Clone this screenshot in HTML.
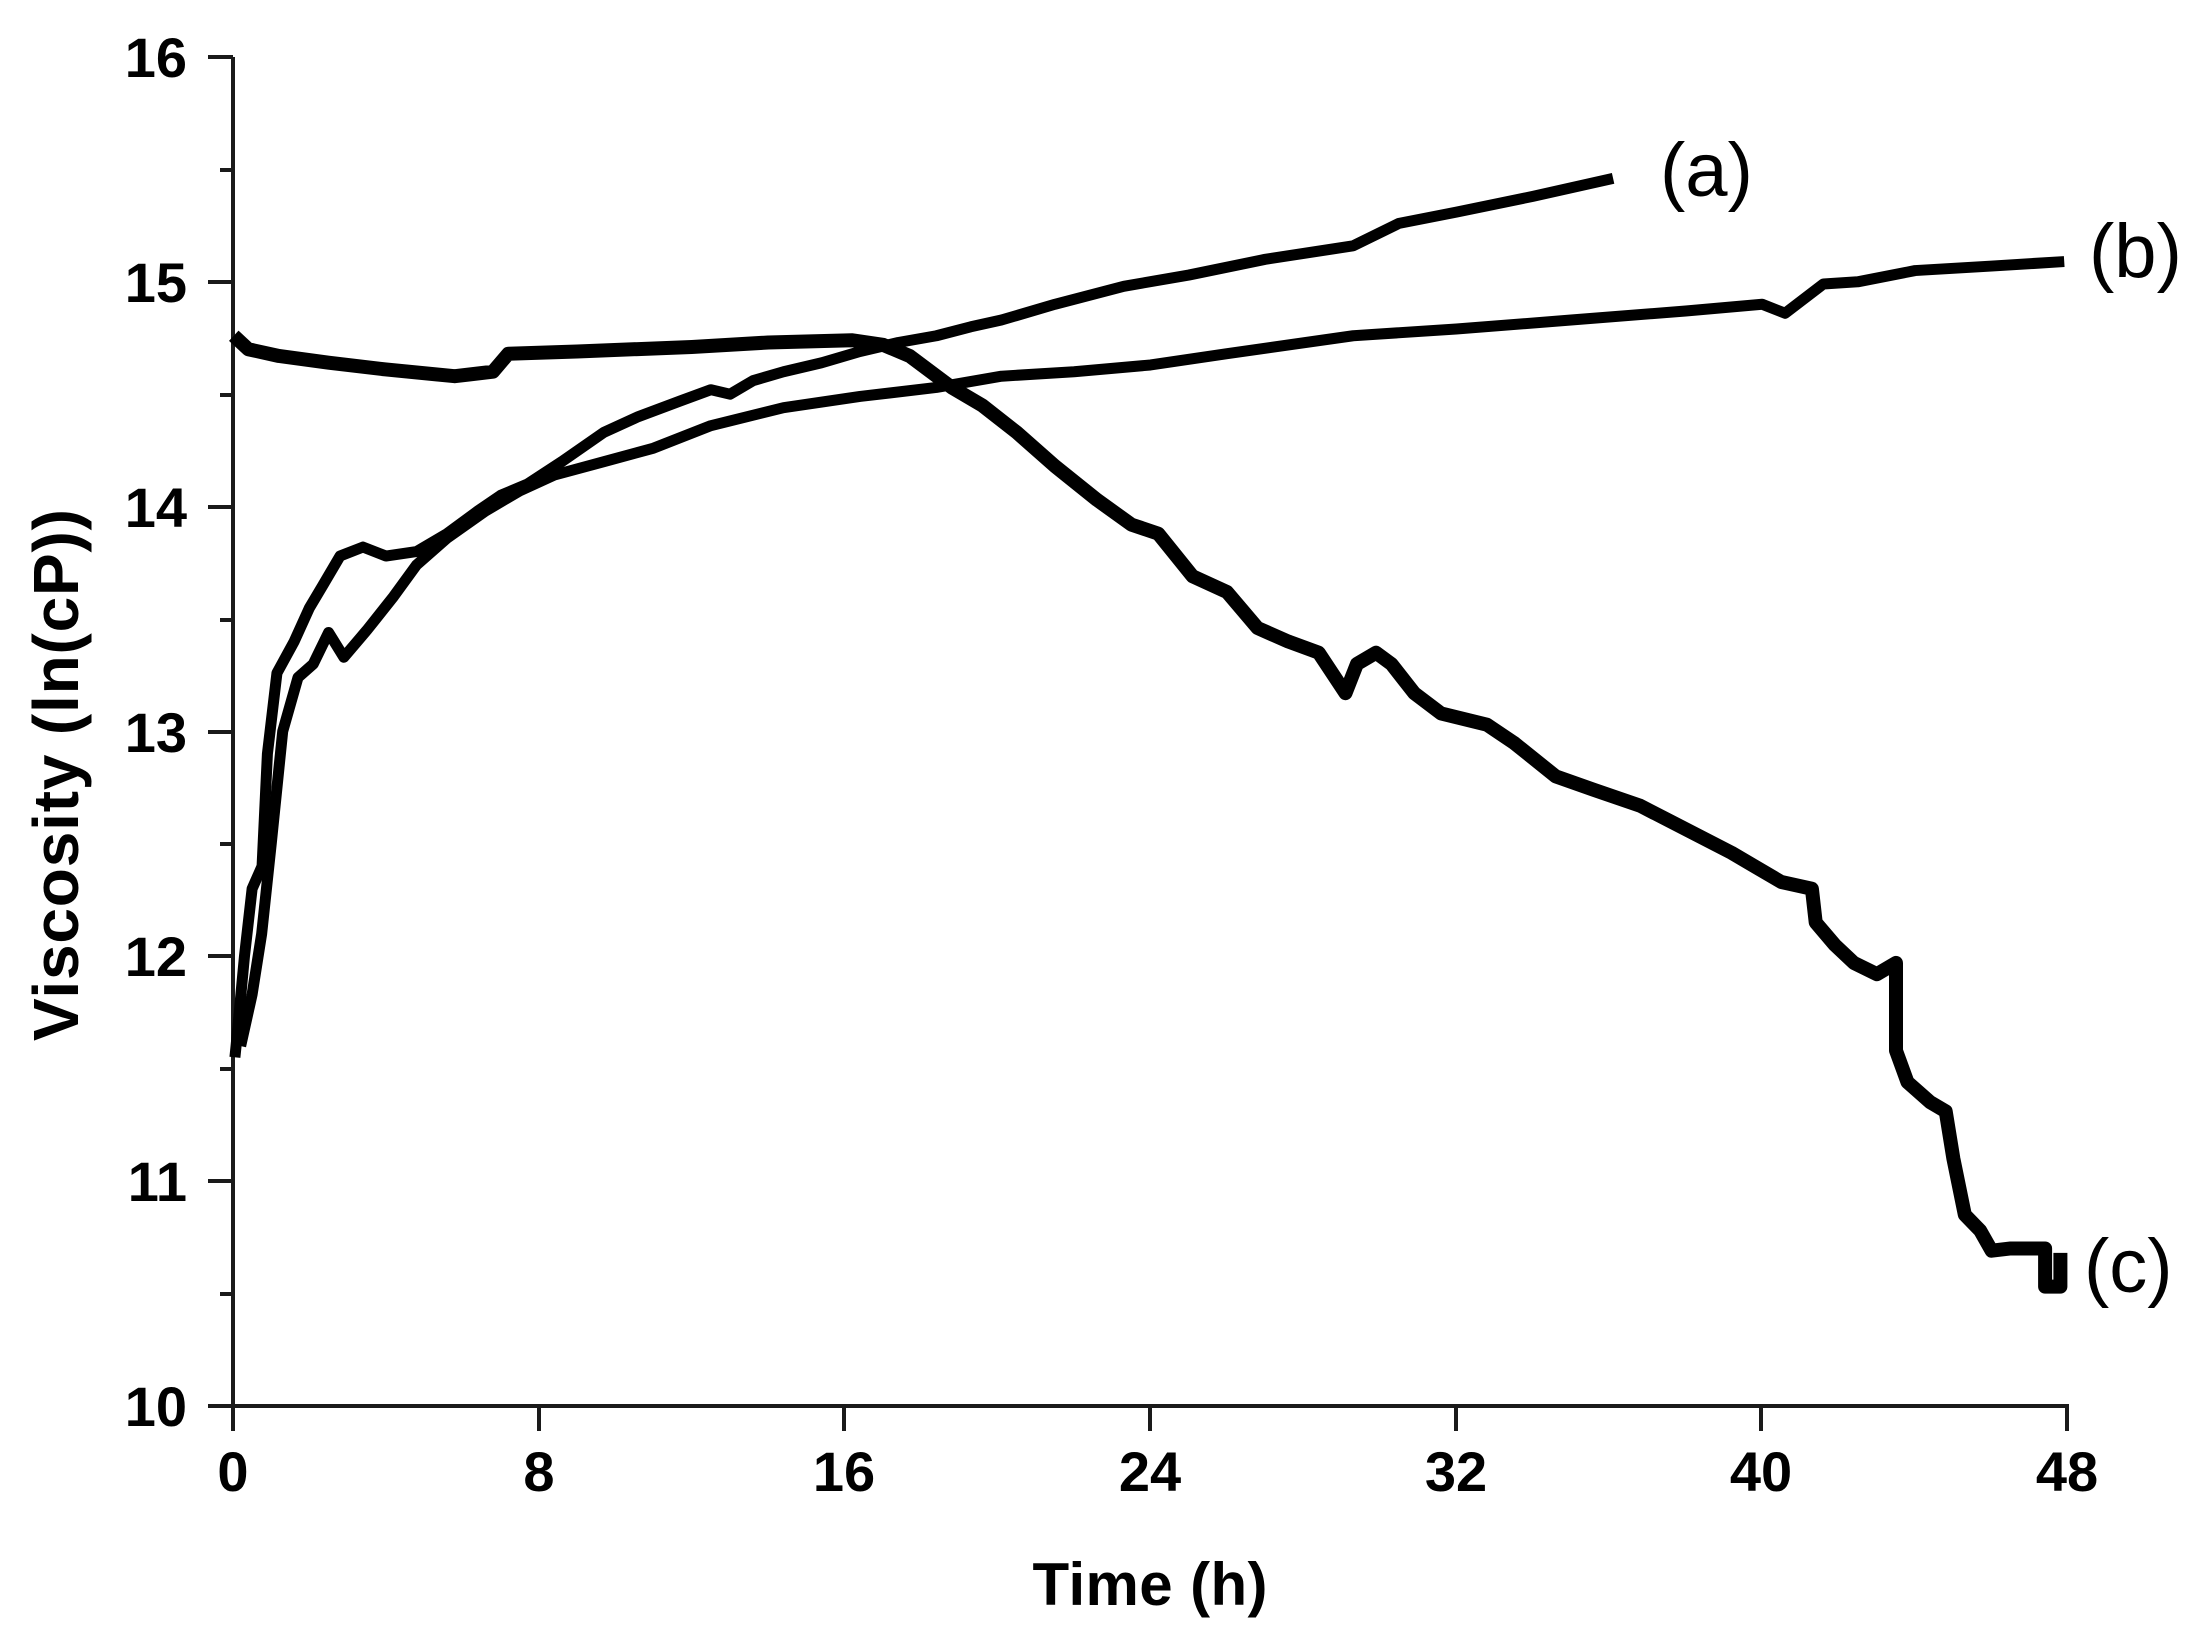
<!DOCTYPE html>
<html><head><meta charset="utf-8"><style>
html,body{margin:0;padding:0;background:#fff;}
svg{display:block;}
</style></head><body>
<svg width="2197" height="1627" viewBox="0 0 2197 1627" xmlns="http://www.w3.org/2000/svg">
<g stroke="#1a1a1a" stroke-width="4" fill="none">
<line x1="233" y1="57" x2="233" y2="1408"/>
<line x1="231" y1="1406" x2="2069" y2="1406"/>
<line x1="208" y1="57" x2="233" y2="57"/>
<line x1="208" y1="282" x2="233" y2="282"/>
<line x1="208" y1="507" x2="233" y2="507"/>
<line x1="208" y1="732" x2="233" y2="732"/>
<line x1="208" y1="956" x2="233" y2="956"/>
<line x1="208" y1="1181" x2="233" y2="1181"/>
<line x1="208" y1="1406" x2="233" y2="1406"/>
<line x1="220" y1="170" x2="233" y2="170"/>
<line x1="220" y1="395" x2="233" y2="395"/>
<line x1="220" y1="620" x2="233" y2="620"/>
<line x1="220" y1="844" x2="233" y2="844"/>
<line x1="220" y1="1069" x2="233" y2="1069"/>
<line x1="220" y1="1294" x2="233" y2="1294"/>
<line x1="233" y1="1406" x2="233" y2="1431"/>
<line x1="539" y1="1406" x2="539" y2="1431"/>
<line x1="844" y1="1406" x2="844" y2="1431"/>
<line x1="1150" y1="1406" x2="1150" y2="1431"/>
<line x1="1456" y1="1406" x2="1456" y2="1431"/>
<line x1="1761" y1="1406" x2="1761" y2="1431"/>
<line x1="2067" y1="1406" x2="2067" y2="1431"/>
</g>
<g font-family="Liberation Sans, Arial, sans-serif" font-weight="bold" font-size="56" fill="#000">
<g text-anchor="end">
<text x="187" y="77">16</text>
<text x="187" y="302">15</text>
<text x="187" y="527">14</text>
<text x="187" y="752">13</text>
<text x="187" y="976">12</text>
<text x="187" y="1201">11</text>
<text x="187" y="1426">10</text>
</g>
<g text-anchor="middle">
<text x="233" y="1491">0</text>
<text x="539" y="1491">8</text>
<text x="844" y="1491">16</text>
<text x="1150" y="1491">24</text>
<text x="1456" y="1491">32</text>
<text x="1761" y="1491">40</text>
<text x="2067" y="1491">48</text>
</g>
<text x="1150" y="1605" font-size="60" text-anchor="middle" textLength="235">Time (h)</text>
<text transform="translate(78,775) rotate(-90)" font-size="64" text-anchor="middle" textLength="532">Viscosity (ln(cP))</text>
</g>
<g font-family="Liberation Sans, Arial, sans-serif" font-size="76" fill="#000">
<text x="1660" y="196">(a)</text>
<text x="2089" y="277">(b)</text>
<text x="2084" y="1292">(c)</text>
</g>
<g fill="none" stroke="#000" stroke-linejoin="round" stroke-linecap="butt" transform="matrix(38.23 0 0 -224.8 233 3653.8)">
<polyline vector-effect="non-scaling-stroke" stroke-width="11" points="0.05,11.55 0.08,11.6 0.3,12.0 0.5,12.3 0.76,12.4 0.9,12.9 1.15,13.26 1.6,13.4 2.0,13.55 2.35,13.65 2.8,13.78 3.4,13.82 4.0,13.78 4.8,13.8 5.6,13.88 6.4,13.98 7.0,14.05 7.7,14.1 8.6,14.2 9.7,14.33 10.6,14.4 11.7,14.47 12.5,14.52 13,14.5 13.6,14.56 14.4,14.6 15.4,14.64 16.4,14.69 17.4,14.73 18.4,14.76 19.3,14.8 20.1,14.83 21.5,14.9 23.3,14.98 25,15.03 27,15.1 29.3,15.16 30.5,15.26 32,15.31 34,15.38 36.1,15.46"/>
<polyline vector-effect="non-scaling-stroke" stroke-width="11" points="0.2,11.6 0.5,11.83 0.75,12.1 1.0,12.5 1.3,13.0 1.7,13.24 2.1,13.3 2.5,13.44 2.9,13.33 3.5,13.45 4.2,13.6 4.8,13.74 5.6,13.86 6.6,13.98 7.5,14.07 8.4,14.14 9.7,14.2 11,14.26 12.5,14.36 14.4,14.44 16.4,14.49 18.4,14.53 20.1,14.58 22,14.6 24,14.63 26,14.68 29.3,14.76 32,14.79 35,14.83 38,14.87 40,14.9 40.6,14.86 41.6,14.99 42.5,15.0 44,15.05 46,15.07 47.9,15.09"/>
<polyline vector-effect="non-scaling-stroke" stroke-width="14" points="0.02,14.76 0.4,14.7 1.2,14.67 2.5,14.64 4.0,14.61 5.8,14.58 6.8,14.6 7.2,14.68 9,14.69 12,14.71 14,14.73 16.2,14.74 17.0,14.72 17.7,14.67 18.8,14.53 19.6,14.45 20.5,14.33 21.5,14.18 22.6,14.03 23.5,13.92 24.2,13.88 25.1,13.69 26,13.62 26.8,13.46 27.6,13.4 28.4,13.35 29.1,13.17 29.4,13.3 29.9,13.35 30.3,13.3 30.9,13.17 31.6,13.08 32.8,13.03 33.5,12.95 34.6,12.8 35.6,12.74 36.8,12.67 37.6,12.6 38.4,12.53 39.2,12.46 39.8,12.4 40.5,12.33 41.3,12.3 41.4,12.15 41.9,12.05 42.4,11.97 43.0,11.92 43.5,11.97 43.5,11.58 43.8,11.44 44.4,11.35 44.8,11.31 45.0,11.1 45.3,10.85 45.7,10.78 46,10.69 46.5,10.7 47.4,10.7 47.4,10.53 47.8,10.53 47.8,10.68"/>
</g>
</svg>
</body></html>
